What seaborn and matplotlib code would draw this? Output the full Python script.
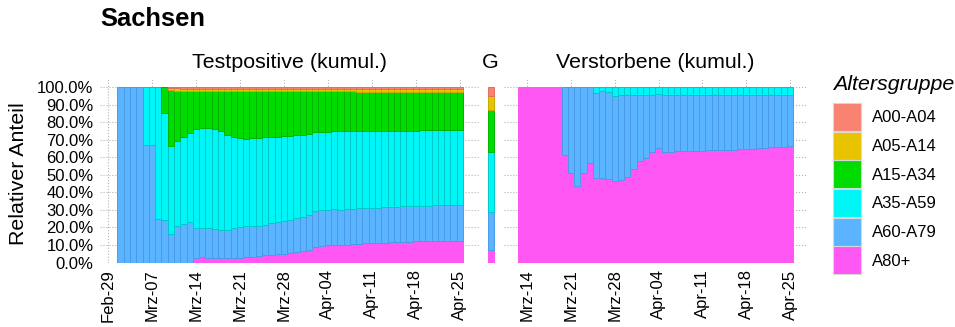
import numpy as np
import pandas as pd
import matplotlib
matplotlib.use("Agg")
import matplotlib.pyplot as plt
import matplotlib.colors as mcolors
from matplotlib.patches import Patch
from matplotlib.ticker import PercentFormatter
import seaborn as sns

# ─── Data (shares in %) ───────────────────────────────────────────────────────
GROUPS = ["A00-A04", "A05-A14", "A15-A34", "A35-A59", "A60-A79", "A80+"]
COLORS = ["#F98272", "#E8C400", "#00DC00", "#00F6F6", "#5AB4FF", "#FF57F3"]
EDGES  = ["#E07060", "#C8A800", "#00B400", "#00C8C8", "#4A9BE6", "#FF57F3"]

# day numbers counted from Feb-29 (= 0)
POS_DAYS  = list(range(2, 57))     # Mar-02 .. Apr-25
DEAD_DAYS = list(range(13, 57))    # Mar-13 .. Apr-25

LEFT_TICKS  = [0, 7, 14, 21, 28, 35, 42, 49, 56]
LEFT_LABELS = ["Feb-29", "Mrz-07", "Mrz-14", "Mrz-21", "Mrz-28",
               "Apr-04", "Apr-11", "Apr-18", "Apr-25"]
RIGHT_TICKS  = [14, 21, 28, 35, 42, 49, 56]
RIGHT_LABELS = ["Mrz-14", "Mrz-21", "Mrz-28", "Apr-04", "Apr-11", "Apr-18", "Apr-25"]

# Testpositive (kumul.)
pos_a80 = [0, 0, 0, 0, 0, 0, 0, 0, 0, 0, 0, 0,
           2.8, 3.0, 2.5, 2.3, 2.3, 2.4, 2.5, 2.8, 3.0, 3.3, 3.6, 4.0, 4.3, 4.6,
           4.9, 5.3, 6.2, 6.5, 7.0, 8.8, 9.4, 9.8, 9.9, 9.8, 9.9, 10.4, 10.8, 11.0,
           11.1, 11.2, 11.4, 11.5, 11.7, 11.8, 11.9, 12.0, 12.0, 12.1, 12.1, 12.2,
           12.2, 12.3, 12.4]
pos_a60 = [100, 100, 100, 100, 66.7, 66.7, 25, 24, 16, 21, 22, 23,
           16.9, 16.9, 17.0, 16.7, 16.2, 16.1, 17.0, 17.4, 17.6, 17.5, 17.2, 17.5,
           18.0, 18.2, 18.5, 19.0, 19.3, 19.7, 20.2, 20.4, 20.4, 20.4, 20.4, 20.4,
           20.4, 20.2, 20.1, 20.1, 20.1, 20.1, 20.1, 20.2, 20.2, 20.2, 20.2, 20.2,
           20.3, 20.3, 20.4, 20.4, 20.5, 20.5, 20.4]
pos_a35 = [0, 0, 0, 0, 33.3, 33.3, 75, 61, 50.5, 48.5, 49.5, 51,
           56.5, 56.9, 57.1, 57.0, 56.3, 54.3, 52.0, 50.6, 50.0, 49.9, 50.2, 49.8,
           49.2, 48.9, 48.5, 47.8, 46.9, 46.5, 46.0, 45.1, 44.7, 44.4, 44.4, 44.5,
           44.5, 44.2, 44.0, 43.9, 43.8, 43.8, 43.6, 43.4, 43.3, 43.2, 43.1, 43.0,
           43.0, 42.9, 42.8, 42.7, 42.6, 42.5, 42.5]
pos_a15 = [0, 0, 0, 0, 0, 0, 0, 15, 31.7, 28.5, 26.3, 23.8,
           21.4, 20.8, 20.9, 21.5, 22.7, 24.7, 26.0, 26.7, 26.9, 26.8, 26.5, 26.2,
           26.0, 25.8, 25.6, 25.4, 25.1, 24.8, 24.3, 23.2, 23.0, 22.9, 22.8, 22.8,
           22.7, 22.7, 22.5, 22.4, 22.4, 22.2, 22.1, 22.1, 22.0, 22.0, 22.0, 22.0,
           21.9, 21.9, 21.9, 21.9, 21.9, 21.9, 21.9]
pos_a05 = [0, 0, 0, 0, 0, 0, 0, 0, 1.1, 1.2, 1.3, 1.3,
           1.4, 1.4, 1.5, 1.5, 1.5, 1.5, 1.5, 1.5, 1.5, 1.5, 1.5, 1.5,
           1.5, 1.5, 1.5, 1.5, 1.5, 1.5, 1.5, 1.5, 1.5, 1.5, 1.5, 1.5,
           1.5, 1.5, 1.6, 1.6, 1.6, 1.7, 1.8, 1.8, 1.8, 1.8, 1.8, 1.8,
           1.8, 1.8, 1.8, 1.8, 1.8, 1.8, 1.8]
pos_a00 = [0, 0, 0, 0, 0, 0, 0, 0, 0.7, 0.8, 0.9, 0.9,
           1.0, 1.0, 1.0, 1.0, 1.0, 1.0, 1.0, 1.0, 1.0, 1.0, 1.0, 1.0,
           1.0, 1.0, 1.0, 1.0, 1.0, 1.0, 1.0, 1.0, 1.0, 1.0, 1.0, 1.0,
           1.0, 1.0, 1.0, 1.0, 1.0, 1.0, 1.0, 1.0, 1.0, 1.0, 1.0, 1.0,
           1.0, 1.0, 1.0, 1.0, 1.0, 1.0, 1.0]

# Verstorbene (kumul.)
dead_a80 = [100, 100, 100, 100, 100, 100, 100,
            61.0, 51.2, 43.6, 51.2, 56.9, 48.1, 48.1, 47.4, 46.3, 46.8, 48.7,
            53.1, 57.7, 59.5, 63.0, 65.4, 63.0, 63.2, 63.4, 63.5, 63.6, 63.7,
            63.8, 63.9, 63.9, 64.0, 64.2, 64.3, 64.5, 64.6, 64.8, 65.2, 65.4,
            65.6, 65.8, 66.0, 66.2]
dead_a60 = [0, 0, 0, 0, 0, 0, 0,
            39.0, 48.8, 56.4, 48.8, 43.1, 48.3, 49.8, 49.6, 48.7, 48.6, 46.7,
            42.5, 37.9, 36.1, 32.6, 30.4, 32.6, 32.4, 32.2, 32.1, 32.0, 31.9,
            31.8, 31.7, 31.7, 31.6, 31.4, 31.3, 31.1, 31.0, 30.8, 30.4, 30.2,
            30.0, 29.8, 29.6, 29.4]
dead_a35 = [0, 0, 0, 0, 0, 0, 0,
            0, 0, 0, 0, 0, 3.6, 2.1, 3.0, 5.0, 4.6, 4.6,
            4.4, 4.4, 4.4, 4.4, 4.2, 4.4, 4.4, 4.4, 4.4, 4.4, 4.4,
            4.4, 4.4, 4.4, 4.4, 4.4, 4.4, 4.4, 4.4, 4.4, 4.4, 4.4,
            4.4, 4.4, 4.4, 4.4]

# G (population)
pop_shares = [5.0, 8.2, 24.0, 34.3, 21.5, 7.0]


def long_frame(days, series):
    wide = pd.DataFrame(series, index=days).reindex(columns=GROUPS, fill_value=0)
    wide.index.name = "day"
    return wide.reset_index().melt(id_vars="day", var_name="group", value_name="share")


pos_df = long_frame(POS_DAYS, {"A00-A04": pos_a00, "A05-A14": pos_a05, "A15-A34": pos_a15,
                               "A35-A59": pos_a35, "A60-A79": pos_a60, "A80+": pos_a80})
dead_df = long_frame(DEAD_DAYS, {"A35-A59": dead_a35, "A60-A79": dead_a60, "A80+": dead_a80})
pop_df = long_frame([0], {g: [v] for g, v in zip(GROUPS, pop_shares)})

# ─── Style ────────────────────────────────────────────────────────────────────
sns.set_style("white")
plt.rcParams["font.family"] = ["Liberation Sans", "DejaVu Sans"]
plt.rcParams["text.color"] = "black"

palette = dict(zip(GROUPS, COLORS))
edge_of = {mcolors.to_hex(c): e for c, e in zip(COLORS, EDGES)}
GRID = "#b4b4b4"

fig = plt.figure(figsize=(9.55, 3.27), dpi=100)
bottom, height = 0.1972, 0.5636
ax_pos  = fig.add_axes([0.1052, bottom, 0.3974, height])
ax_pop  = fig.add_axes([0.5099, bottom, 0.0084, height])
ax_dead = fig.add_axes([0.5280, bottom, 0.3166, height])


def stacked(ax, df, shrink=1.0):
    sns.histplot(data=df, x="day", weights="share", hue="group", hue_order=GROUPS,
                 palette=palette, multiple="fill", discrete=True, shrink=shrink,
                 alpha=1, linewidth=0.7, legend=False, ax=ax)
    for p in ax.patches:
        if p.get_height() <= 0:
            p.set_linewidth(0)
        else:
            p.set_edgecolor(edge_of.get(mcolors.to_hex(p.get_facecolor()), "none"))
    ax.set_ylim(0, 1.05)
    ax.set_yticks(np.arange(0, 1.01, 0.1))
    ax.yaxis.set_major_formatter(PercentFormatter(xmax=1, decimals=1))
    ax.set_xlabel("")
    ax.set_ylabel("")
    ax.set_axisbelow(True)
    ax.grid(True, linestyle=":", color=GRID, linewidth=0.8)
    for s in ax.spines.values():
        s.set_visible(False)
    ax.tick_params(length=3, color=GRID, labelsize=12, labelcolor="black", pad=2)


stacked(ax_pos, pos_df)
ax_pos.set_xlim(-1.2, 59.2)
ax_pos.set_xticks(LEFT_TICKS, LEFT_LABELS, rotation=90)

stacked(ax_pop, pop_df, shrink=0.8)
ax_pop.set_xlim(-0.6, 0.6)
ax_pop.set_xticks([])
ax_pop.tick_params(labelleft=False, length=0)
ax_pop.grid(False)

stacked(ax_dead, dead_df)
ax_dead.set_xlim(10.35, 58.65)
ax_dead.set_xticks(RIGHT_TICKS, RIGHT_LABELS, rotation=90)
ax_dead.tick_params(axis="y", labelleft=False, length=0)

# ─── Texts ────────────────────────────────────────────────────────────────────
fig.text(100 / 955, 1 - 19 / 327, "Sachsen", fontsize=18.4, fontweight="bold",
         ha="left", va="center")
fig.text(290 / 955, 1 - 62 / 327, "Testpositive (kumul.)", fontsize=15.4,
         ha="center", va="center")
fig.text(490.5 / 955, 1 - 62 / 327, "G", fontsize=15.4, ha="center", va="center")
fig.text(655 / 955, 1 - 62 / 327, "Verstorbene (kumul.)", fontsize=15.4,
         ha="center", va="center")
fig.text(18 / 955, 1 - 173.5 / 327, "Relativer Anteil", fontsize=15.4, rotation=90,
         ha="center", va="center")

# ─── Legend ───────────────────────────────────────────────────────────────────
fig.text(833 / 955, 1 - 84 / 327, "Altersgruppe", fontsize=15.4, style="italic",
         ha="left", va="center")
handles = [Patch(facecolor=c, edgecolor="#d8d8d8", linewidth=0.8) for c in COLORS]
fig.legend(handles, GROUPS, loc="upper left", bbox_to_anchor=(833 / 955, 1 - 103 / 327),
           frameon=False, fontsize=12, handlelength=1.68, handleheight=2.21,
           labelspacing=0.04, handletextpad=0.66, borderpad=0, borderaxespad=0)

fig.savefig("out.png", dpi=100)
